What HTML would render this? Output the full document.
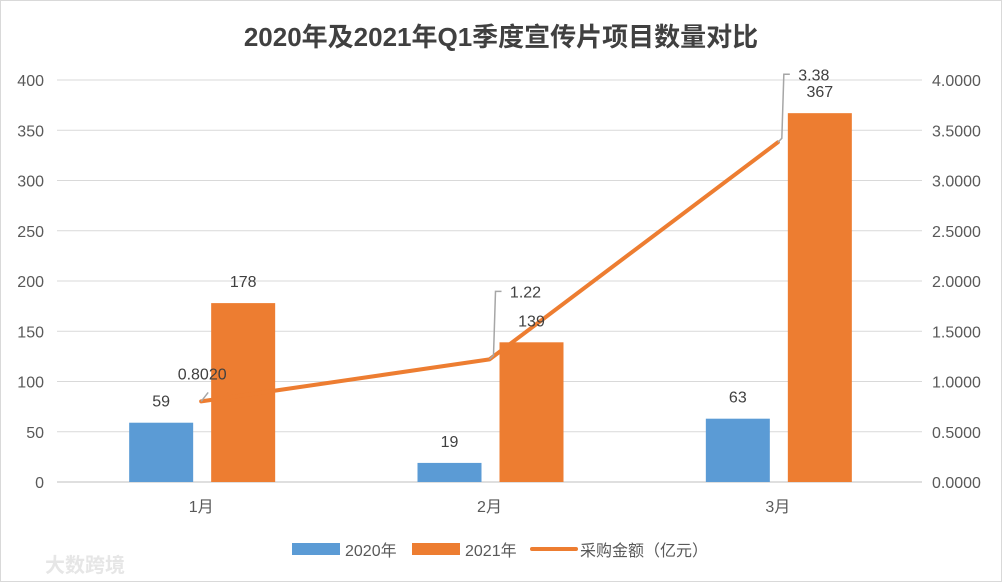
<!DOCTYPE html>
<html><head><meta charset="utf-8"><style>
body{margin:0;background:#fff;}
svg{display:block;font-family:"Liberation Sans","Noto Sans CJK SC",sans-serif;}
</style></head><body>
<svg id="chart" width="1002" height="582">
<rect x="0.5" y="0.5" width="1001" height="581" fill="#fff" stroke="#d9d9d9"/>
<text x="501" y="46" text-anchor="middle" font-size="26" font-weight="bold" fill="#404040">2020年及2021年Q1季度宣传片项目数量对比</text>
<g id="grid"></g><g id="bars"></g><g id="line"></g><g id="labels"></g>
<g font-size="16" fill="#595959">
<rect x="292" y="543" width="48" height="12" fill="#5b9bd5"/>
<text x="345" y="556">2020年</text>
<rect x="412" y="543" width="48" height="12" fill="#ed7d31"/>
<text x="465" y="556">2021年</text>
<line x1="532" y1="549" x2="576" y2="549" stroke="#ed7d31" stroke-width="4" stroke-linecap="round"/>
<text x="580" y="556">采购金额（亿元）</text>
</g>
<text x="45" y="572" font-size="20" font-weight="bold" fill="#e6e6e6">大数跨境</text>
</svg>
<script>
const categories=["1月","2月","3月"];
const s2020=[59,19,63];
const s2021=[178,139,367];
const amount=[0.8020,1.22,3.38];
const amountLabels=["0.8020","1.22","3.38"];
const leftTicks=[0,50,100,150,200,250,300,350,400];
const rightTicks=["0.0000","0.5000","1.0000","1.5000","2.0000","2.5000","3.0000","3.5000","4.0000"];
const NS="http://www.w3.org/2000/svg";
const x0=57,x1=922,yB=482,yT=80;
const yL=v=>yB-(v/400)*(yB-yT);
const yR=v=>yB-(v/4)*(yB-yT);
const cw=(x1-x0)/categories.length;
const cx=i=>x0+cw*(i+0.5);
function mk(tag,attrs,parent,text){const e=document.createElementNS(NS,tag);for(const k in attrs)e.setAttribute(k,attrs[k]);if(text!=null)e.textContent=text;document.getElementById(parent).appendChild(e);return e;}
leftTicks.forEach((t,i)=>{
 const y=yL(t);
 const g=mk('line',{x1:x0,x2:x1,y1:y,y2:y,stroke:t===0?'#bfbfbf':'#d9d9d9','stroke-width':1},'grid');
 
 
 const l=mk('text',{x:44,y:y+6,'text-anchor':'end','font-size':16,fill:'#595959'},'grid',String(t));
 
 
 const r=mk('text',{x:932,y:y+6,'font-size':16,fill:'#595959'},'grid',rightTicks[i]);
 
 
});
categories.forEach((c,i)=>{
 const t=mk('text',{x:cx(i),y:512,'text-anchor':'middle','font-size':16,fill:'#595959'},'grid',c);
 
 
 const bw=64;
 const xa=cx(i)-72, xb=cx(i)+10;
 const a=mk('rect',{x:xa,y:yL(s2020[i]),width:bw,height:yB-yL(s2020[i]),fill:'#5b9bd5'},'bars');
 
 
 const b=mk('rect',{x:xb,y:yL(s2021[i]),width:bw,height:yB-yL(s2021[i]),fill:'#ed7d31'},'bars');
 
 
 const la=mk('text',{x:xa+bw/2,y:yL(s2020[i])-16,'text-anchor':'middle','font-size':16,fill:'#404040'},'labels',String(s2020[i]));
 
 
 const lb=mk('text',{x:xb+bw/2,y:yL(s2021[i])-16,'text-anchor':'middle','font-size':16,fill:'#404040'},'labels',String(s2021[i]));
 
 
});
const pts=amount.map((v,i)=>cx(i)+','+yR(v)).join(' ');
const pl=mk('polyline',{points:pts,fill:'none',stroke:'#ed7d31','stroke-width':4,'stroke-linejoin':'round','stroke-linecap':'round'},'line');


amount.forEach((v,i)=>{
 const px=cx(i),py=yR(v);
 let d,tx,ty;
 if(i===0){d=`M${px},${py} L${px+7},${py-9}`;tx=px+1;ty=py-22;}
 else{d=`M${px},${py} L${px+4},${py-4} L${px+6},${py-68} L${px+12},${py-68}`;tx=px+36;ty=py-62;}
 const ld=mk('path',{d:d,fill:'none',stroke:'#a6a6a6','stroke-width':1.5},'labels');
 
 
 const t=mk('text',{x:tx,y:ty,'text-anchor':'middle','font-size':16,fill:'#404040'},'labels',amountLabels[i]);
 
 
});
</script>
</body></html>
